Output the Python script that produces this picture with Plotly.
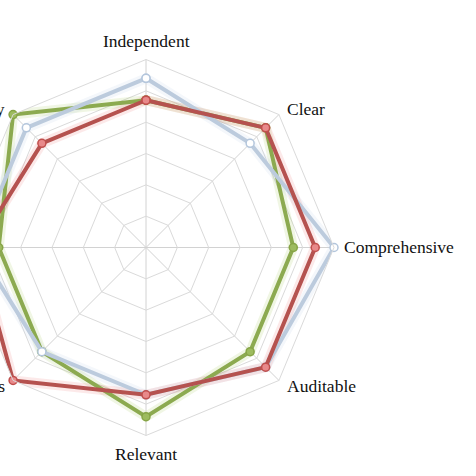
import plotly.graph_objects as go

categories = ["Independent", "Clear", "Comprehensive", "Auditable", "Relevant",
              "Timeliness", "Accurate", "Transparency"]
series_names = ["Series A", "Series B", "Series C"]
blue_values = [5.4, 4.7, 6.0, 5.4, 4.7, 4.7, 5.4, 5.4]
red_values = [4.7, 5.4, 5.4, 5.4, 4.7, 6.0, 5.4, 4.7]
green_values = [4.7, 5.4, 4.7, 4.7, 5.4, 4.7, 4.7, 6.0]

styles = {
    "green": dict(line="#8caa50", halo="rgba(160,200,90,0.16)", fill="#9dbb5f", edge="#86a446"),
    "blue": dict(line="#bccbdd", halo="rgba(185,205,228,0.16)", fill="#ffffff", edge="#b4c6dc"),
    "red": dict(line="#b5524f", halo="rgba(235,120,120,0.16)", fill="#e8898a", edge="#c04f4d"),
}
order = [("green", green_values, series_names[2]),
         ("blue", blue_values, series_names[0]),
         ("red", red_values, series_names[1])]

fig = go.Figure()
for key, vals, name in order:
    st = styles[key]
    fig.add_trace(go.Scatterpolar(
        r=vals + vals[:1], theta=categories + categories[:1],
        mode="lines", line=dict(color=st["halo"], width=10),
        hoverinfo="skip", showlegend=False))
for key, vals, name in order:
    st = styles[key]
    fig.add_trace(go.Scatterpolar(
        r=vals + vals[:1], theta=categories + categories[:1], name=name,
        mode="lines+markers",
        line=dict(color=st["line"], width=4),
        marker=dict(size=8, color=st["fill"], line=dict(color=st["edge"], width=1.5)),
        showlegend=False))

W, H = 518, 476
SHIFT = 42
CX, CY, R = 146 + SHIFT, 247.5, 188  # polar centre / radius in figure pixels
FONT = "Liberation Serif, Times New Roman, serif"

fig.update_layout(
    width=W, height=H,
    margin=dict(l=0, r=0, t=0, b=0),
    paper_bgcolor="white",
    plot_bgcolor="white",
    showlegend=False,
    font=dict(family=FONT, size=17.5, color="#111111"),
    polar=dict(
        domain=dict(x=[(CX - R) / W, (CX + R) / W],
                    y=[1 - (CY + R) / H, 1 - (CY - R) / H]),
        bgcolor="white",
        gridshape="linear",
        radialaxis=dict(range=[0, 6], dtick=1, showticklabels=False, ticks="",
                        showline=False, gridcolor="#dadada", gridwidth=1),
        angularaxis=dict(direction="clockwise", rotation=90, ticks="",
                         showticklabels=False,
                         showline=True, linecolor="#dadada", linewidth=1,
                         gridcolor="#d2d2d2", gridwidth=1),
    ),
)

# category labels (offsets of each label box from the polar centre, in px)
label_offsets = [(0, -207, "center"), (140.5, -138.7, "left"), (198, -0.8, "left"),
                 (141, 138.5, "left"), (0, 206.5, "center"), (-141.5, 138.5, "right"),
                 (-198, -0.8, "right"), (-141.5, -138.7, "right")]
for cat, (dx, dy, anchor) in zip(categories, label_offsets):
    fig.add_annotation(
        text=cat, xref="paper", yref="paper",
        x=(CX + dx) / W, y=1 - (CY + dy) / H,
        xanchor=anchor, yanchor="middle", showarrow=False,
        borderpad=0, borderwidth=0,
        font=dict(family=FONT, size=17.5, color="#111111"))

post = ("var gd=document.getElementById('{plot_id}');"
        "gd.style.marginLeft='-%dpx';"
        "document.body.style.margin='0';"
        "document.body.style.overflow='hidden';") % SHIFT
fig.write_html("out.html", post_script=post, config={"displayModeBar": False})
